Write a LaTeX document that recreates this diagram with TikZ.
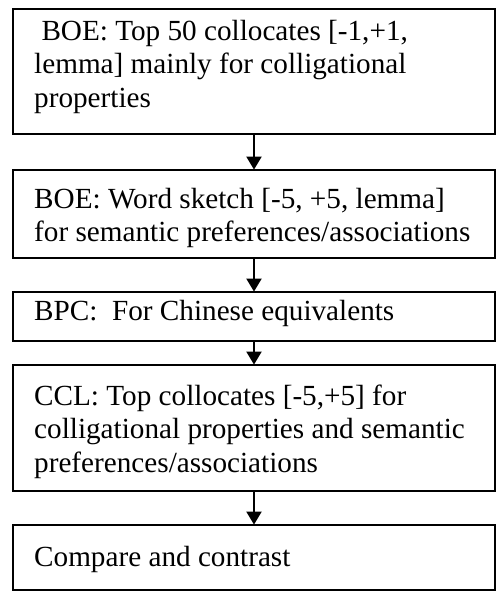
\documentclass[tikz,border=0pt]{standalone}
\usepackage{fontspec}
\setmainfont{Liberation Serif}
\usetikzlibrary{arrows.meta}

\begin{document}
\begin{tikzpicture}[x=1pt, y=-1pt,
  stepbox/.style={draw=black, line width=1.8pt, rectangle, inner sep=0pt,
    minimum width=482pt, fill=white},
  txt/.style={anchor=base west, inner sep=0pt,
    font=\fontsize{29.2}{33.6}\selectfont},
  flow/.style={line width=2pt,
    -{Triangle[width=15pt, length=13pt]}, shorten >=-0.5pt}
]
\useasboundingbox (0,0) rectangle (496,592);

% boxes of the workflow
\node[stepbox, minimum height=125pt] (b1) at (254, 71.5) {};
\node[stepbox, minimum height=88pt]  (b2) at (254, 214) {};
\node[stepbox, minimum height=49pt]  (b3) at (254, 316.5) {};
\node[stepbox, minimum height=126pt] (b4) at (254, 428) {};
\node[stepbox, minimum height=65pt]  (b5) at (254, 557.5) {};

% box texts, one node per line
\node[txt] (t1a) at (34, 40)    {\hspace*{0.25em}BOE: Top 50 collocates [-1,+1,};
\node[txt] (t1b) at (34, 73.5)  {lemma] mainly for colligational};
\node[txt] (t1c) at (34, 107)   {properties};

\node[txt] (t2a) at (34, 208)   {BOE: Word sketch [-5, +5, lemma]};
\node[txt] (t2b) at (34, 241.5) {for semantic preferences/associations};

\node[txt] (t3a) at (34, 320)   {BPC:\ \ For Chinese equivalents};

\node[txt] (t4a) at (34, 405)   {CCL: Top collocates [-5,+5] for};
\node[txt] (t4b) at (34, 438.5) {colligational properties and semantic};
\node[txt] (t4c) at (34, 472)   {preferences/associations};

\node[txt] (t5a) at (34, 566)   {Compare and contrast};

% connectors
\draw[flow] (b1.south) -- (b2.north);
\draw[flow] (b2.south) -- (b3.north);
\draw[flow] (b3.south) -- (b4.north);
\draw[flow] (b4.south) -- (b5.north);
\end{tikzpicture}
\end{document}
